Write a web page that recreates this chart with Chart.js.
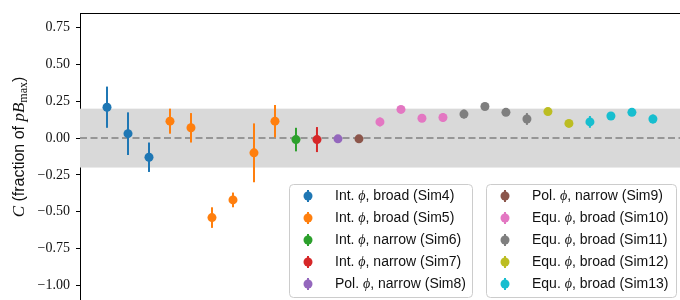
<!DOCTYPE html>
<html>
<head>
<meta charset="utf-8">
<script src="https://cdn.jsdelivr.net/npm/chart.js@4"></script>
<style>
  html, body { margin: 0; padding: 0; background: #fff; }
</style>
</head>
<body>
<canvas id="chart" width="680" height="300"></canvas>
<script>
// one entry per simulation: label, colour, values and symmetric errors
const simLabels = [
    'Int. ϕ, broad (Sim4)', 'Int. ϕ, broad (Sim5)', 'Int. ϕ, narrow (Sim6)',
    'Int. ϕ, narrow (Sim7)', 'Pol. ϕ, narrow (Sim8)', 'Pol. ϕ, narrow (Sim9)',
    'Equ. ϕ, broad (Sim10)', 'Equ. ϕ, broad (Sim11)', 'Equ. ϕ, broad (Sim12)',
    'Equ. ϕ, broad (Sim13)'
]
const simColors = ['#1f77b4', '#ff7f0e', '#2ca02c', '#d62728', '#9467bd',
    '#8c564b', '#e377c2', '#7f7f7f', '#bcbd22', '#17becf']

const sim4 = [0.21, 0.03, -0.13]
const sim4Err = [0.14, 0.145, 0.10]
const sim5 = [0.115, 0.07, -0.54, -0.42, -0.10, 0.115]
const sim5Err = [0.085, 0.10, 0.07, 0.05, 0.20, 0.11]
const sim6 = [-0.01]
const sim6Err = [0.08]
const sim7 = [-0.01]
const sim7Err = [0.085]
const sim8 = [-0.005]
const sim8Err = [0.015]
const sim9 = [-0.005]
const sim9Err = [0.015]
const sim10 = [0.11, 0.195, 0.135, 0.14]
const sim10Err = [0.03, 0.015, 0.025, 0.03]
const sim11 = [0.163, 0.215, 0.175, 0.13]
const sim11Err = [0.03, 0.015, 0.02, 0.04]
const sim12 = [0.18, 0.10]
const sim12Err = [0.01, 0.01]
const sim13 = [0.11, 0.15, 0.175, 0.13]
const sim13Err = [0.04, 0.025, 0.02, 0.03]

const simValues = [sim4, sim5, sim6, sim7, sim8, sim9, sim10, sim11, sim12, sim13]
const simErrors = [sim4Err, sim5Err, sim6Err, sim7Err, sim8Err, sim9Err, sim10Err, sim11Err, sim12Err, sim13Err]

const yTicks = [-1, -0.75, -0.5, -0.25, 0, 0.25, 0.5, 0.75]
const bandLimit = 0.2

const SERIF = '"Liberation Serif", serif'
const SANS = '"Liberation Sans", sans-serif'

function buildDatasets() {
    let idx = 0
    return simValues.map((vals, i) => ({
        label: simLabels[i],
        data: vals.map((v, j) => ({ x: idx++, y: v, err: simErrors[i][j] })),
        backgroundColor: simColors[i],
        borderColor: simColors[i],
        pointRadius: 4.5,
        pointHoverRadius: 4.5,
        borderWidth: 0,
        showLine: false
    }))
}

// grey band, dashed zero line and error bars under the markers
const backdrop = {
    id: 'backdrop',
    beforeDatasetsDraw(chart) {
        const { ctx, chartArea: a, scales: { x, y } } = chart
        ctx.save()
        const top = y.getPixelForValue(bandLimit)
        const bot = y.getPixelForValue(-bandLimit)
        ctx.fillStyle = '#d9d9d9'
        ctx.fillRect(a.left, top, a.right - a.left, bot - top)

        const y0 = y.getPixelForValue(0)
        ctx.strokeStyle = '#808080'
        ctx.lineWidth = 1.5
        ctx.setLineDash([7, 3.5])
        ctx.beginPath()
        ctx.moveTo(a.left, y0)
        ctx.lineTo(a.right, y0)
        ctx.stroke()
        ctx.setLineDash([])

        ctx.lineWidth = 2
        chart.data.datasets.forEach(ds => {
            ctx.strokeStyle = ds.borderColor
            ds.data.forEach(p => {
                const px = x.getPixelForValue(p.x)
                ctx.beginPath()
                ctx.moveTo(px, y.getPixelForValue(p.y - p.err))
                ctx.lineTo(px, y.getPixelForValue(p.y + p.err))
                ctx.stroke()
            })
        })
        ctx.restore()
    }
}

function drawLabel(ctx, x, y, text) {
    const parts = text.split('ϕ')
    ctx.font = '14px ' + SANS
    ctx.fillText(parts[0], x, y)
    x += ctx.measureText(parts[0]).width
    ctx.font = 'italic 14px ' + SERIF
    ctx.fillText('ϕ', x, y)
    x += ctx.measureText('ϕ').width
    ctx.font = '14px ' + SANS
    ctx.fillText(parts[1], x, y)
}

// two framed legend boxes plus top spine and y title
const overlay = {
    id: 'overlay',
    afterDraw(chart) {
        const { ctx, chartArea: a } = chart
        ctx.save()
        ctx.strokeStyle = '#000'
        ctx.lineWidth = 1
        ctx.beginPath()
        ctx.moveTo(a.left, a.top + 0.5)
        ctx.lineTo(a.right, a.top + 0.5)
        ctx.stroke()

        const boxes = [
            { x: 289, y: 184, w: 183, h: 113, items: [0, 1, 2, 3, 4] },
            { x: 486, y: 184, w: 190, h: 113, items: [5, 6, 7, 8, 9] }
        ]
        boxes.forEach(b => {
            ctx.beginPath()
            ctx.roundRect(b.x + 0.5, b.y + 0.5, b.w, b.h, 4)
            ctx.fillStyle = 'rgba(255,255,255,0.8)'
            ctx.fill()
            ctx.strokeStyle = '#cccccc'
            ctx.stroke()
            b.items.forEach((k, r) => {
                const cy = b.y + 12 + r * 22
                const mx = b.x + 19
                ctx.strokeStyle = simColors[k]
                ctx.lineWidth = 2
                ctx.beginPath()
                ctx.moveTo(mx, cy - 6)
                ctx.lineTo(mx, cy + 6)
                ctx.stroke()
                ctx.fillStyle = simColors[k]
                ctx.beginPath()
                ctx.arc(mx, cy, 4.5, 0, Math.PI * 2)
                ctx.fill()
                ctx.lineWidth = 1
                ctx.fillStyle = '#111'
                ctx.textBaseline = 'middle'
                drawLabel(ctx, b.x + 46, cy, simLabels[k])
            })
        })

        // y axis title, rotated
        ctx.translate(24, 147)
        ctx.rotate(-Math.PI / 2)
        ctx.fillStyle = '#111'
        ctx.textBaseline = 'alphabetic'
        const segs = [
            ['italic 17px ' + SERIF, 'C', 0],
            ['16px ' + SANS, ' (fraction of ', 0],
            ['italic 17px ' + SERIF, 'pB', 0],
            ['12px ' + SERIF, 'max', 3],
            ['16px ' + SANS, ')', 0]
        ]
        let total = 0
        segs.forEach(s => { ctx.font = s[0]; total += ctx.measureText(s[1]).width })
        let tx = -total / 2
        segs.forEach(s => {
            ctx.font = s[0]
            ctx.fillText(s[1], tx, s[2])
            tx += ctx.measureText(s[1]).width
        })
        ctx.restore()
    }
}

new Chart(document.querySelector('#chart'), {
    type: 'scatter',
    data: { datasets: buildDatasets() },
    options: {
        responsive: false,
        animation: false,
        devicePixelRatio: 1,
        layout: { autoPadding: false, padding: { top: 13, left: 0, right: 0, bottom: 0 } },
        plugins: { legend: { display: false }, tooltip: { enabled: false } },
        scales: {
            x: {
                type: 'linear',
                display: false,
                min: -1.286,
                max: 27.29
            },
            y: {
                type: 'linear',
                min: -1.1,
                max: 0.85,
                afterFit: scale => {
                    scale.width = 80
                    scale.paddingTop = 0
                    scale.paddingBottom = 0
                },
                afterBuildTicks: scale => { scale.ticks = yTicks.map(v => ({ value: v })) },
                border: { display: true, color: '#000', width: 1 },
                grid: { drawOnChartArea: false, tickLength: 4, tickColor: '#000' },
                ticks: {
                    padding: 6,
                    color: '#111',
                    font: { family: SERIF, size: 14 },
                    callback: v => v.toFixed(2).replace('-', '−')
                }
            }
        }
    },
    plugins: [backdrop, overlay]
})
</script>
</body>
</html>
